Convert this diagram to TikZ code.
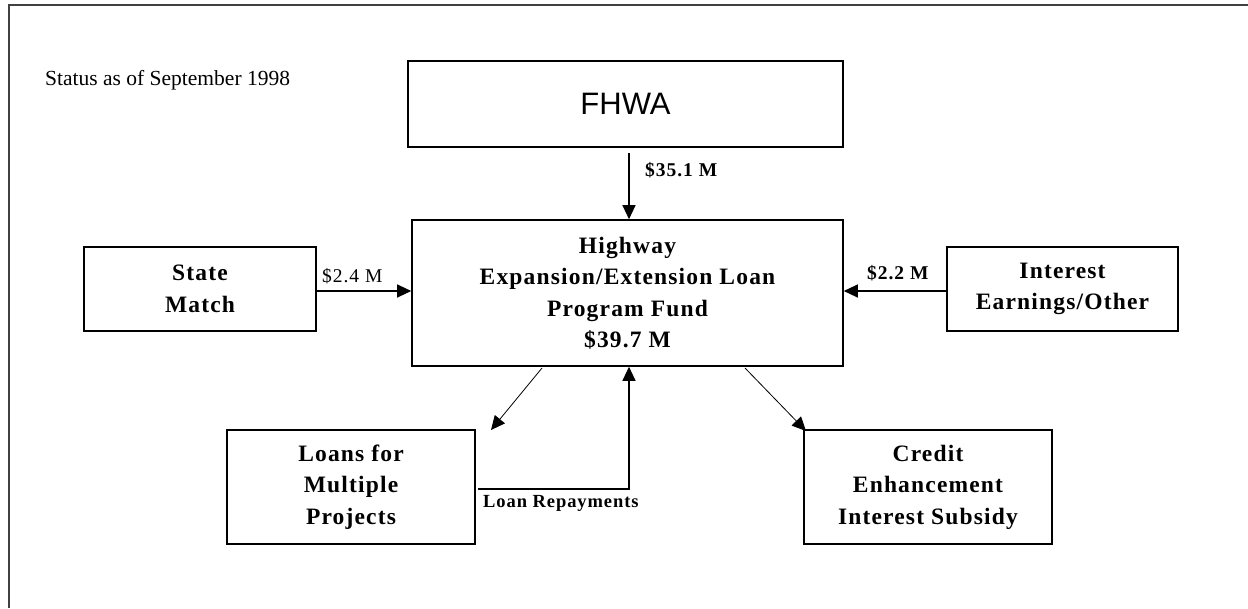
\documentclass[tikz,border=0pt]{standalone}
\usepackage{fontspec}
\setmainfont{Liberation Serif}
\newfontfamily\arialfont{Liberation Sans}
\newfontfamily\boxfont[LetterSpace=5]{Liberation Serif}
\usetikzlibrary{arrows.meta}
\begin{document}
\begin{tikzpicture}[x=1pt,y=-1pt,
  box/.style={draw=black,line width=1.6pt,inner sep=0pt,align=center,font=\boxfont\fontsize{23.5}{31.5}\selectfont\bfseries},
  conn/.style={draw=black,line width=1.2pt,-{Triangle[length=14pt,width=13pt]}},
  thinconn/.style={draw=black,line width=0.8pt,-{Triangle[length=14pt,width=13pt]}},
  lbl/.style={inner sep=0pt,font=\boxfont\fontsize{19.5}{22}\selectfont\bfseries},
  lblr/.style={inner sep=0pt,font=\boxfont\fontsize{19.5}{22}\selectfont}]
\useasboundingbox (0,0) rectangle (1248,608);
\draw[line width=2pt,draw=black!75] (9,608) -- (9,5) -- (1248,5);
\node[inner sep=0pt,font=\fontsize{21.5}{24}\selectfont,anchor=west] (status) at (45,80) {Status as of September 1998};
\node[box,minimum width=435pt,minimum height=86pt,font=\fontsize{31}{34}\selectfont\arialfont] (fhwa) at (625.5,104) {FHWA};
\node[box,minimum width=431pt,minimum height=146pt] (main) at (627.5,293) {Highway\\Expansion/Extension Loan\\Program Fund\\\$39.7 M};
\node[box,minimum width=232pt,minimum height=84pt] (state) at (200,289) {State\\Match};
\node[box,minimum width=231pt,minimum height=84pt] (interest) at (1062.5,289) {Interest\\Earnings/Other};
\node[box,minimum width=248pt,minimum height=114pt] (loans) at (351,487) {Loans for\\Multiple\\Projects};
\node[box,minimum width=248pt,minimum height=114pt] (credit) at (928,487) {Credit\\Enhancement\\Interest Subsidy};
% FHWA -> main
\coordinate (fa) at (629,153);
\draw[conn] (fa) -- (fa |- main.north);
\node[lbl,anchor=west] (l351) at (645,170) {\$35.1 M};
% state -> main
\draw[conn] (state.east |- 0,291) -- (main.west |- 0,291);
\node[lblr,anchor=west] (l24) at (322,276) {\$2.4 M};
% interest -> main
\draw[conn] (interest.west |- 0,291) -- (main.east |- 0,291);
\node[lbl,anchor=west] (l22) at (867,273) {\$2.2 M};
% main -> loans
\coordinate (d1) at (542,368);
\coordinate (d1e) at (491,430);
\draw[thinconn] (d1) -- (d1e);
% main -> credit
\coordinate (d2) at (745,368);
\coordinate (d2e) at (806,431);
\draw[thinconn] (d2) -- (d2e);
% loan repayments
\coordinate (r0) at (478,489);
\coordinate (r1) at (629,489);
\draw[conn] (r0) -- (r1) -- (r1 |- main.south);
\node[inner sep=0pt,font=\boxfont\fontsize{18.5}{20}\selectfont\bfseries,anchor=west] (lrep) at (483,503) {Loan Repayments};
\end{tikzpicture}
\end{document}
